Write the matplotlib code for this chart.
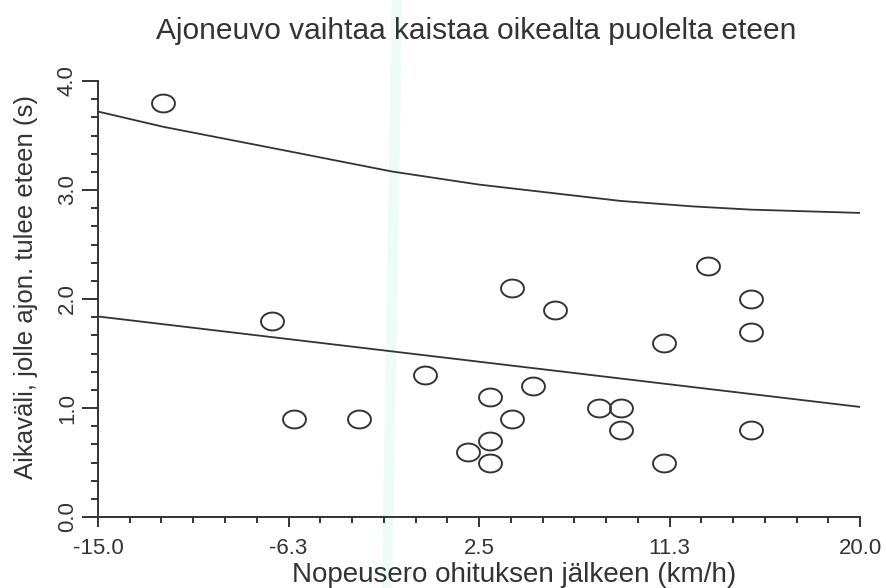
import matplotlib.pyplot as plt
import numpy as np
from matplotlib.path import Path
from matplotlib.patches import Polygon
from matplotlib.ticker import FixedLocator, FixedFormatter

# observations: speed difference after overtaking vs. time gap
speed_diff = [-12, -7, -6, -3, 0, 2, 3, 3, 3, 4, 4, 5, 6, 8, 9, 9, 11, 11, 13, 15, 15, 15]
time_gap = [3.8, 1.8, 0.9, 0.9, 1.3, 0.6, 1.1, 0.7, 0.5, 2.1, 0.9, 1.2, 1.9,
            1.0, 1.0, 0.8, 1.6, 0.5, 2.3, 2.0, 1.7, 0.8]

# fitted line and upper limit curve
fit_x = [-15.0, 20.0]
fit_y = [1.84, 1.01]
upper_x = [-15.0, -12.0, -6.6, -1.5, 2.5, 9.0, 12.3, 15.0, 20.0]
upper_y = [3.72, 3.58, 3.37, 3.17, 3.05, 2.90, 2.85, 2.82, 2.79]

xticks = [-15.0, -6.25, 2.5, 11.25, 20.0]
xticklabels = ["-15.0", "-6.3", "2.5", "11.3", "20.0"]
yticks = [0.0, 1.0, 2.0, 3.0, 4.0]
yticklabels = ["0.0", "1.0", "2.0", "3.0", "4.0"]

plt.rcParams['font.family'] = ['Liberation Sans', 'DejaVu Sans']
ink = "#333333"

fig = plt.figure(figsize=(8.86, 5.88), dpi=100)

# faint scanner streak, kept behind the axes
streak = Polygon([[0.442, 1.0], [0.454, 1.0], [0.443, 0.0], [0.431, 0.0]],
                 closed=True, transform=fig.transFigure,
                 facecolor="#eefcf8", edgecolor="none", zorder=0)
fig.patches.append(streak)

ax = fig.add_axes([0.1106, 0.1207, 0.8601, 0.7415])
ax.set_zorder(1)
ax.set_facecolor("none")

# elliptical open marker
t = np.linspace(0, 2 * np.pi, 60)
ellipse = Path(np.column_stack([np.cos(t), 0.78 * np.sin(t)]))

ax.plot(fit_x, fit_y, color=ink, lw=1.3)
ax.plot(upper_x, upper_y, color=ink, lw=1.3)
ax.plot(speed_diff, time_gap, linestyle="none", marker=ellipse, markersize=16.5,
        markerfacecolor="none", markeredgecolor=ink, markeredgewidth=1.4)

ax.set_xlim(-15, 20)
ax.set_ylim(0, 4)
for side in ["top", "right"]:
    ax.spines[side].set_visible(False)
for side in ["left", "bottom"]:
    ax.spines[side].set_color(ink)
    ax.spines[side].set_linewidth(1.4)

ax.xaxis.set_major_locator(FixedLocator(xticks))
ax.xaxis.set_major_formatter(FixedFormatter(xticklabels))
ax.xaxis.set_minor_locator(FixedLocator(np.arange(-15, 20.01, 8.75 / 6)))
ax.yaxis.set_major_locator(FixedLocator(yticks))
ax.yaxis.set_major_formatter(FixedFormatter(yticklabels))
ax.yaxis.set_minor_locator(FixedLocator(np.arange(0, 4.01, 1 / 6)))

ax.tick_params(axis="x", which="major", length=7, width=1.4, color=ink,
               labelsize=16, labelcolor=ink, pad=8)
ax.tick_params(axis="x", which="minor", length=4.3, width=1.4, color=ink)
ax.tick_params(axis="y", which="major", length=11.5, width=1.4, color=ink,
               labelsize=16, labelcolor=ink, pad=3)
ax.tick_params(axis="y", which="minor", length=5, width=1.4, color=ink)
for lbl in ax.get_yticklabels():
    lbl.set_rotation(90)
    lbl.set_va("center")

ax.set_xlabel("Nopeusero ohituksen jälkeen (km/h)", fontsize=20, color=ink, labelpad=0)
ax.xaxis.set_label_coords(0.546, -0.103)
ax.set_ylabel("Aikaväli, jolle ajon. tulee eteen (s)", fontsize=18.5, color=ink)
ax.yaxis.set_label_coords(-0.079, 0.527)
fig.text(0.537, 0.948, "Ajoneuvo vaihtaa kaistaa oikealta puolelta eteen",
         ha="center", va="center", fontsize=21.5, color=ink)

fig.savefig("out.png", dpi=100)
